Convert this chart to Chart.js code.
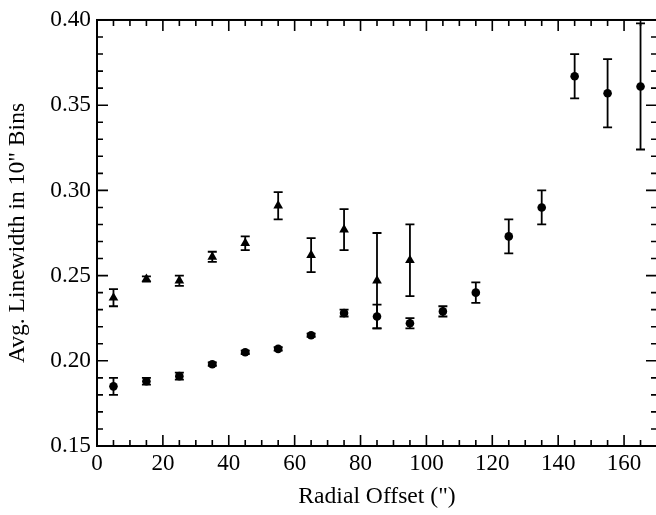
<!DOCTYPE html>
<html>
<head>
<meta charset="utf-8">
<script src="https://cdn.jsdelivr.net/npm/chart.js@4.4.1/dist/chart.umd.min.js"></script>
<style>
  html, body { margin: 0; padding: 0; background: #fff; overflow: hidden; }
  #wrap { width: 670px; height: 515px; position: relative; }
  canvas { display: block; }
  #warm { position: absolute; left: -9999px; top: 0; font-family: "Liberation Serif"; font-size: 23px; }
</style>
</head>
<body>
<span id="warm">0.40 Radial Offset Avg</span>
<div id="wrap"><canvas id="c" width="670" height="515" style="width:670px;height:515px"></canvas></div>
<script>
// ---- data ----
const circleX   = [5, 15, 25, 35, 45, 55, 65, 75, 85, 95, 105, 115, 125, 135, 145, 155, 165];
const circleY   = [0.185, 0.188, 0.191, 0.198, 0.205, 0.207, 0.215, 0.228, 0.226, 0.222, 0.229, 0.240, 0.273, 0.290, 0.367, 0.357, 0.361];
const circleErr = [0.005, 0.002, 0.002, 0.001, 0.001, 0.001, 0.001, 0.002, 0.007, 0.003, 0.003, 0.006, 0.010, 0.010, 0.013, 0.020, 0.037];

const triX   = [5, 15, 25, 35, 45, 55, 65, 75, 85, 95];
const triY   = [0.237, 0.248, 0.247, 0.261, 0.269, 0.291, 0.262, 0.277, 0.247, 0.259];
const triErr = [0.005, 0.0015, 0.003, 0.003, 0.004, 0.008, 0.010, 0.012, 0.028, 0.021];

const xTicks = [0, 20, 40, 60, 80, 100, 120, 140, 160];
const yTicks = [0.15, 0.20, 0.25, 0.30, 0.35, 0.40];
const xMinorStep = 5;
const yMinorStep = 0.01;

const xTitle = 'Radial Offset (")';
const yTitle = 'Avg. Linewidth in 10" Bins';

const FONT = '"Liberation Serif", serif';
Chart.defaults.font.family = FONT;
Chart.defaults.color = '#000';

function pts(xs, ys, es) {
  return xs.map((x, i) => ({ x: x, y: ys[i], e: es[i] }));
}

const errorBars = {
  id: 'errorBars',
  beforeDatasetsDraw(chart) {
    const ctx = chart.ctx;
    const xs = chart.scales.x, ys = chart.scales.y;
    ctx.save();
    ctx.strokeStyle = '#000';
    ctx.lineWidth = 1.8;
    chart.data.datasets.forEach(ds => {
      ds.data.forEach(p => {
        const px = xs.getPixelForValue(p.x);
        const top = ys.getPixelForValue(p.y + p.e);
        const bot = ys.getPixelForValue(p.y - p.e);
        const cap = 4.5;
        ctx.beginPath();
        ctx.moveTo(px, top); ctx.lineTo(px, bot);
        ctx.moveTo(px - cap, top); ctx.lineTo(px + cap, top);
        ctx.moveTo(px - cap, bot); ctx.lineTo(px + cap, bot);
        ctx.stroke();
      });
    });
    ctx.restore();
  }
};

const frameTicks = {
  id: 'frameTicks',
  afterDraw(chart) {
    const ctx = chart.ctx;
    const a = chart.chartArea;
    const xs = chart.scales.x, ys = chart.scales.y;
    const MAJ = 11, MIN = 6;
    ctx.save();
    ctx.strokeStyle = '#000';
    ctx.lineWidth = 1.6;
    ctx.beginPath();
    for (let v = xs.min; v <= xs.max + 1e-9; v += xMinorStep) {
      const isMaj = xTicks.some(t => Math.abs(t - v) < 1e-6);
      const L = isMaj ? MAJ : MIN;
      const px = xs.getPixelForValue(v);
      ctx.moveTo(px, a.bottom); ctx.lineTo(px, a.bottom - L);
      ctx.moveTo(px, a.top); ctx.lineTo(px, a.top + L);
    }
    const n = Math.round((ys.max - ys.min) / yMinorStep);
    for (let i = 0; i <= n; i++) {
      const v = ys.min + i * yMinorStep;
      const isMaj = yTicks.some(t => Math.abs(t - v) < 1e-6);
      const L = isMaj ? MAJ : MIN;
      const py = ys.getPixelForValue(v);
      ctx.moveTo(a.left, py); ctx.lineTo(a.left + L, py);
      ctx.moveTo(a.right, py); ctx.lineTo(a.right - L, py);
    }
    ctx.stroke();
    ctx.lineWidth = 2;
    ctx.strokeRect(a.left, a.top, a.right - a.left, a.bottom - a.top);
    ctx.restore();
  }
};

function build() {
  new Chart(document.getElementById('c'), {
    type: 'scatter',
    data: {
      datasets: [
        {
          label: 'circles',
          data: pts(circleX, circleY, circleErr),
          pointStyle: 'circle',
          pointRadius: 4.3,
          backgroundColor: '#000',
          borderColor: '#000',
          borderWidth: 0,
          showLine: false
        },
        {
          label: 'triangles',
          data: pts(triX, triY, triErr),
          pointStyle: 'triangle',
          pointRadius: 5.6,
          backgroundColor: '#000',
          borderColor: '#000',
          borderWidth: 0,
          showLine: false
        }
      ]
    },
    options: {
      responsive: false,
      devicePixelRatio: 1,
      animation: false,
      layout: { padding: { top: 16, right: 13, left: 0, bottom: 0 } },
      plugins: { legend: { display: false }, tooltip: { enabled: false } },
      scales: {
        x: {
          type: 'linear',
          min: 0, max: 170,
          afterBuildTicks: s => { s.ticks = xTicks.map(v => ({ value: v })); },
          afterFit: s => { s.height = 69; },
          grid: { display: false, drawTicks: false },
          border: { display: false },
          ticks: {
            font: { size: 23, family: FONT },
            color: '#000',
            padding: 4,
            maxRotation: 0,
            autoSkip: false
          },
          title: {
            display: true,
            text: xTitle,
            font: { size: 23.6, family: FONT },
            color: '#000',
            padding: { top: 0, bottom: 4 }
          }
        },
        y: {
          type: 'linear',
          min: 0.15, max: 0.40,
          afterBuildTicks: s => { s.ticks = yTicks.map(v => ({ value: v })); },
          afterFit: s => { s.width = 97; },
          grid: { display: false, drawTicks: false },
          border: { display: false },
          ticks: {
            font: { size: 23.3, family: FONT },
            color: '#000',
            padding: 6,
            autoSkip: false,
            callback: v => Number(v).toFixed(2)
          },
          title: {
            display: true,
            text: yTitle,
            font: { size: 23.6, family: FONT },
            color: '#000',
            padding: { top: 4, bottom: 0 }
          }
        }
      }
    },
    plugins: [errorBars, frameTicks]
  });
}

if (document.fonts && document.fonts.load) {
  document.fonts.load('23px "Liberation Serif"').then(build, build);
} else {
  build();
}
</script>
</body>
</html>
